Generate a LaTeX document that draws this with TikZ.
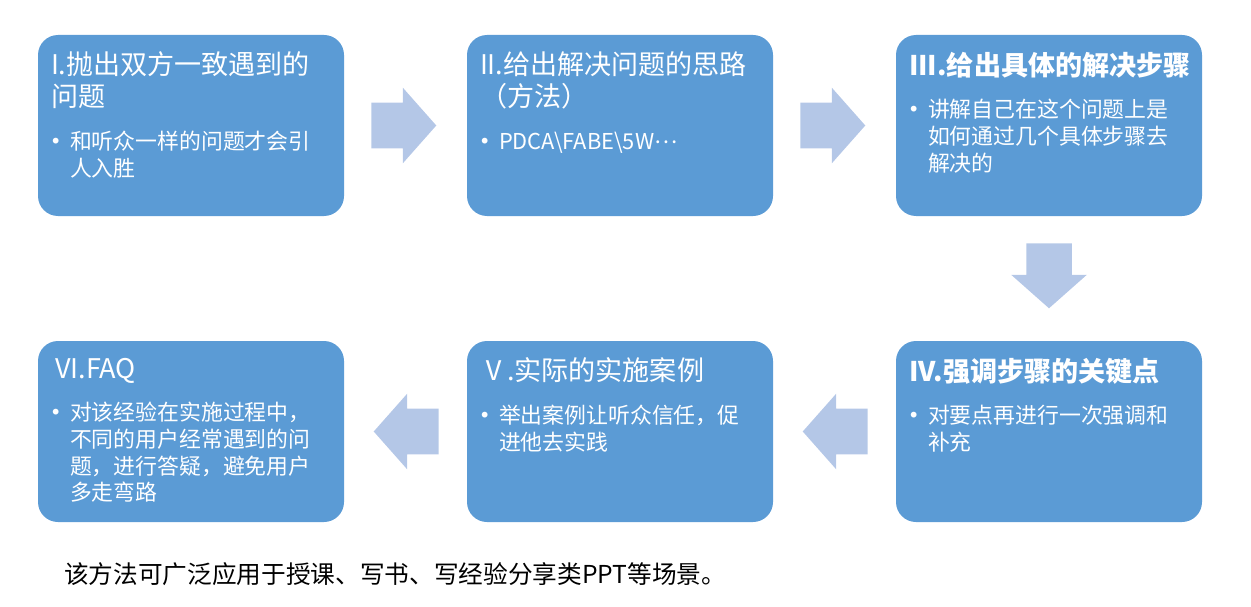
\documentclass[tikz,border=0pt]{standalone}
\usepackage{fontspec}
\setmainfont{Noto Sans CJK SC}
\usepackage{tikz}
\usetikzlibrary{positioning,shapes.arrows}
\usepackage{xcolor}
\definecolor{stepblue}{HTML}{5B9BD5}
\definecolor{arrowblue}{HTML}{B4C7E7}

\newcommand{\stepcard}[2]{%
  \parbox[t][110.25pt][t]{210pt}{%
    {\fontsize{20.3}{24}\selectfont #1\par}
    \vspace{12pt}
    {\fontsize{16.4}{20}\selectfont\makebox[14.25pt][l]{\hspace{-6.5pt}\raisebox{-0.08em}{\scalebox{1.25}{•}}}\parbox[t]{195pt}{\raggedright #2}\par}}}

\begin{document}
\begin{tikzpicture}[
        node distance=93.75pt and 92.25pt,
        stepbox/.style={fill=stepblue, rounded corners=15pt, inner xsep=9.75pt, inner ysep=12.75pt, text=white, outer sep=0pt},
        flowarrow/.style={single arrow, fill=arrowblue, draw=none, minimum height=48.75pt, single arrow head extend=11.25pt, single arrow tip angle=97, inner xsep=0pt, inner ysep=16.875pt},
        notetext/.style={font=\fontsize{18.5}{22}\selectfont, inner sep=0pt, anchor=west}
    ]
        \useasboundingbox (0,0) rectangle (938.25pt,-454.5pt);

        \node[stepbox, anchor=north west] (s1) at (28.5pt,-26.25pt) {\stepcard{I.抛出双方一致遇到的\\问题}{和听众一样的问题才会引\\人入胜}};
        \node[stepbox, right=of s1] (s2) {\stepcard{II.给出解决问题的思路\\（方法）}{PDCA\textbackslash FABE\textbackslash 5W\raisebox{0.28em}{…}}};
        \node[stepbox, right=of s2] (s3) {\stepcard{\textbf{III.给出具体的解决步骤}}{讲解自己在这个问题上是\\如何通过几个具体步骤去\\解决的}};
        \node[stepbox, below=of s3] (s4) {\stepcard{\textbf{IV.强调步骤的关键点}}{对要点再进行一次强调和\\补充}};
        \node[stepbox, left=of s4] (s5) {\stepcard{Ⅴ.实际的实施案例}{举出案例让听众信任，促\\进他去实践}};
        \node[stepbox, left=of s5] (s6) {\stepcard{\hspace{3pt}VI.FAQ}{对该经验在实施过程中，\\不同的用户经常遇到的问\\题，进行答疑，避免用户\\多走弯路}};

        \node[flowarrow, anchor=tail] (a12) at ([xshift=20.25pt]s1.east) {};
        \node[flowarrow, anchor=tail] (a23) at ([xshift=20.25pt]s2.east) {};
        \node[flowarrow, rotate=-90, anchor=tail] (a34) at ([yshift=-20.25pt]s3.south) {};
        \node[flowarrow, rotate=180, anchor=tail] (a45) at ([xshift=-21pt]s4.west) {};
        \node[flowarrow, rotate=180, anchor=tail] (a56) at ([xshift=-21pt]s5.west) {};

        \node[notetext] (note) at (48pt,-430.5pt) {该方法可广泛应用于授课、写书、写经验分享类PPT等场景。};
    \end{tikzpicture}
\end{document}
